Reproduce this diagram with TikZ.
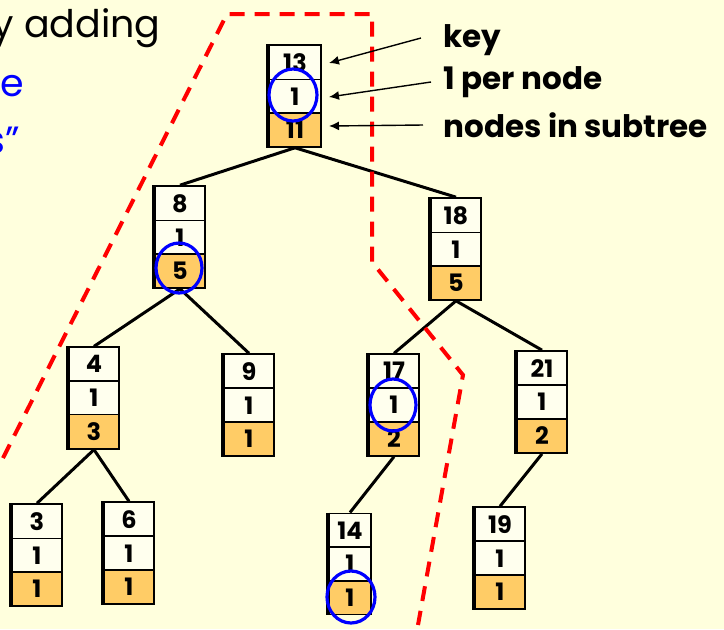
\documentclass[tikz,border=0pt]{standalone}
\usepackage{fontspec}
\setmainfont{Poppins}
\usetikzlibrary{shapes.multipart, arrows.meta}
\definecolor{bgc}{HTML}{FFFFDD}
\definecolor{cellc}{HTML}{FFFFEE}
\definecolor{sizec}{HTML}{FFCC66}
\definecolor{cutc}{HTML}{FF0000}
\definecolor{ringc}{HTML}{0000FF}
\begin{document}
\begin{tikzpicture}[
    x=0.5pt, y=-0.5pt,
    tnode/.style={draw, line width=0.9pt, rectangle split, rectangle split parts=3,
      rectangle split part fill={cellc,cellc,sizec}, minimum width=25pt,
      inner xsep=2pt, inner ysep=3.6pt, font=\bfseries\fontsize{12}{12}\selectfont},
    link/.style={line width=1.5pt},
    lbl/.style={font=\bfseries\fontsize{15.5}{17}\selectfont, anchor=west, inner sep=0pt},
    slide/.style={anchor=east, inner sep=0pt, font=\fontsize{19}{22}\selectfont},
    cut/.style={cutc, line width=2pt, dash pattern=on 7.5pt off 5pt},
    hilite/.style={ringc, line width=1.6pt},
    ptr/.style={line width=0.7pt, -{Latex[length=5pt,width=4.5pt]}},
  ]
    \useasboundingbox (0,0) rectangle (724,629);
    \clip (0,0) rectangle (724,629);
    \fill[bgc] (0,0) rectangle (724,629);

    % text of the slide, cut at the left
    \node[slide] (intro) at (161,28) {by adding};
    \node[slide, ringc] (introb) at (24,86) {e};
    \node[slide, ringc] (introc) at (20,140) {s”};

    % the tree
    \node[tnode, minimum width=26pt] (n13) at (295,96)  {13 \nodepart{two} 1 \nodepart{three} 11};
    \node[tnode] (n8)  at (180,237) {8 \nodepart{two} 1 \nodepart{three} 5};
    \node[tnode] (n18) at (456,249) {18 \nodepart{two} 1 \nodepart{three} 5};
    \node[tnode] (n4)  at (94,398)  {4 \nodepart{two} 1 \nodepart{three} 3};
    \node[tnode] (n9)  at (249,405) {9 \nodepart{two} 1 \nodepart{three} 1};
    \node[tnode] (n17) at (394,405) {17 \nodepart{two} 1 \nodepart{three} 2};
    \node[tnode] (n21) at (542,402) {21 \nodepart{two} 1 \nodepart{three} 2};
    \node[tnode] (n3)  at (37,555)  {3 \nodepart{two} 1 \nodepart{three} 1};
    \node[tnode] (n6)  at (129,553) {6 \nodepart{two} 1 \nodepart{three} 1};
    \node[tnode, minimum width=21pt] (n14) at (350,564) {14 \nodepart{two} 1 \nodepart{three} 1};
    \node[tnode] (n19) at (500,558) {19 \nodepart{two} 1 \nodepart{three} 1};

    \foreach \n in {n13,n8,n18,n4,n9,n17,n21,n3,n6,n14,n19}
      \draw[line width=2.2pt] (\n.north west) -- (\n.south west);

    \draw[link] (n13.south) -- (n8.north);
    \draw[link] (n13.south) -- (n18.north);
    \draw[link] (n8.south) -- (n4.north);
    \draw[link] (n8.south) -- (n9.north);
    \draw[link] (n18.south) -- (n17.north);
    \draw[link] (n18.south) -- (n21.north);
    \draw[link] (n4.south) -- (n3.north);
    \draw[link] (n4.south) -- (n6.north);
    \draw[link] (n17.south) -- (n14.north);
    \draw[link] (n21.south) -- (n19.north);

    % rings
    \draw[hilite] (293,95)  ellipse [x radius=12pt, y radius=13pt];
    \draw[hilite] (179,268) ellipse [x radius=11.5pt, y radius=12.5pt];
    \draw[hilite] (393,405) ellipse [x radius=11.5pt, y radius=13pt];
    \draw[hilite] (351,597) ellipse [x radius=12pt, y radius=13pt];

    % cut line
    \draw[cut] (3,458) -- (227,14) -- (372,14) -- (372,262) -- (463,375) -- (418,625);

    % legend
    \node[lbl] (key)  at (443,40)  {key};
    \node[lbl] (one)  at (443,82)  {1 per node};
    \node[lbl] (size) at (443,125) {nodes in subtree};
    \coordinate (keyp)  at (329,63);
    \coordinate (onep)  at (329,97);
    \coordinate (sizep) at (329,126);
    \draw[ptr] ([xshift=-11pt,yshift=1pt]key.west) -- (keyp);
    \draw[ptr] ([xshift=-6pt]one.west) -- (onep);
    \draw[ptr] ([xshift=-10pt]size.west) -- (sizep);
\end{tikzpicture}
\end{document}
